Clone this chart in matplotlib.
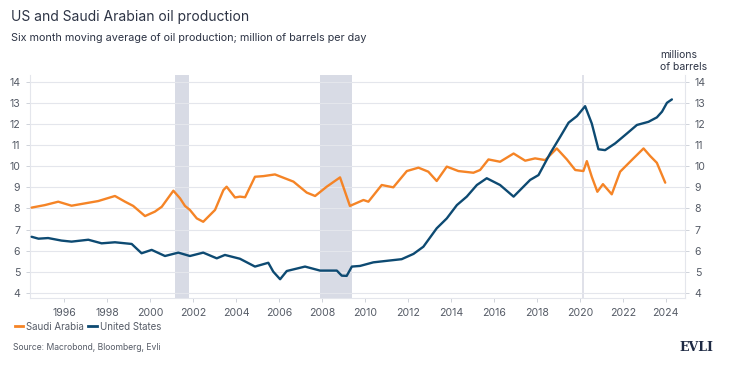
import matplotlib.pyplot as plt
from matplotlib.lines import Line2D

# values (year, million barrels per day)
saudi_years = [1994.48, 1995.1, 1995.72, 1996.34, 1996.96, 1997.58, 1998.36, 1998.83,
               1999.21, 1999.76, 2000.22, 2000.54, 2001.08, 2001.39, 2001.62, 2001.85,
               2002.17, 2002.47, 2003.02, 2003.41, 2003.56, 2003.95, 2004.18, 2004.42,
               2004.88, 2005.27, 2005.81, 2006.67, 2007.29, 2007.68, 2008.22, 2008.84,
               2009.3, 2009.93, 2010.16, 2010.78, 2011.32, 2011.95, 2012.49, 2012.95,
               2013.34, 2013.81, 2014.35, 2015.05, 2015.36, 2015.75, 2016.29, 2016.92,
               2017.46, 2017.92, 2018.39, 2018.93, 2019.4, 2019.79, 2020.17, 2020.33,
               2020.56, 2020.82, 2021.08, 2021.49, 2021.88, 2022.5, 2022.97, 2023.28,
               2023.59, 2023.98]
saudi = [8.04, 8.16, 8.32, 8.13, 8.24, 8.35, 8.59, 8.32,
         8.12, 7.64, 7.85, 8.08, 8.84, 8.48, 8.12, 7.93,
         7.53, 7.37, 7.93, 8.87, 9.03, 8.52, 8.56, 8.53,
         9.5, 9.53, 9.61, 9.27, 8.75, 8.59, 9.03, 9.47,
         8.12, 8.4, 8.32, 9.11, 9.0, 9.77, 9.93, 9.74,
         9.3, 9.98, 9.77, 9.69, 9.82, 10.32, 10.21, 10.6,
         10.26, 10.37, 10.29, 10.84, 10.32, 9.82, 9.77, 10.24,
         9.5, 8.79, 9.15, 8.67, 9.74, 10.37, 10.84, 10.48,
         10.16, 9.22]

us_years = [1994.48, 1994.8, 1995.25, 1995.87, 1996.34, 1997.12, 1997.74, 1998.36,
            1999.14, 1999.6, 2000.07, 2000.69, 2001.31, 2001.85, 2002.47, 2003.1,
            2003.48, 2004.18, 2004.88, 2005.5, 2005.73, 2006.05, 2006.36, 2007.21,
            2007.91, 2008.69, 2008.92, 2009.15, 2009.39, 2009.77, 2010.39, 2011.09,
            2011.71, 2012.26, 2012.72, 2013.34, 2013.81, 2014.28, 2014.74, 2015.21,
            2015.67, 2016.29, 2016.92, 2017.69, 2018.08, 2018.62, 2019.09, 2019.48,
            2019.87, 2020.25, 2020.56, 2020.87, 2021.18, 2021.65, 2022.2, 2022.66,
            2023.2, 2023.59, 2023.83, 2024.06, 2024.29]
us = [6.66, 6.57, 6.6, 6.48, 6.43, 6.52, 6.35, 6.4,
      6.32, 5.88, 6.04, 5.75, 5.91, 5.75, 5.91, 5.64,
      5.8, 5.62, 5.25, 5.43, 5.01, 4.65, 5.04, 5.25,
      5.06, 5.06, 4.82, 4.81, 5.25, 5.28, 5.45, 5.53,
      5.6, 5.85, 6.19, 7.06, 7.53, 8.16, 8.56, 9.11,
      9.43, 9.11, 8.56, 9.35, 9.58, 10.6, 11.39, 12.06,
      12.37, 12.84, 12.02, 10.8, 10.76, 11.08, 11.55, 11.95,
      12.1, 12.31, 12.58, 13.0, 13.16]

recessions = [(2001.17, 2001.8), (2007.92, 2009.42)]
covid_line = 2020.15

x_ticks = list(range(1996, 2025, 2))
y_ticks = list(range(4, 15))

orange = '#f58426'
navy = '#0d4a72'
text_col = '#2d3445'
tick_col = '#555b66'
grid_col = '#e4e6ec'

plt.rcParams['font.family'] = ['Inter', 'DejaVu Sans']

fig = plt.figure(figsize=(7.47, 3.70), dpi=100)
ax = fig.add_axes([0.040, 0.195, 0.877, 0.602])

for start, end in recessions:
    ax.axvspan(start, end, color='#d8dbe5', lw=0, zorder=1)
ax.axvline(covid_line, color='#dadce5', lw=1.2, zorder=1)

ax.plot(saudi_years, saudi, color=orange, lw=1.7, zorder=3,
        solid_joinstyle='round', solid_capstyle='round')
ax.plot(us_years, us, color=navy, lw=1.7, zorder=3,
        solid_joinstyle='round', solid_capstyle='round')

ax.set_xlim(1994.4, 2024.9)
ax.set_ylim(3.77, 14.31)
ax.set_xticks(x_ticks)
ax.set_yticks(y_ticks)
ax.grid(axis='y', color=grid_col, lw=0.8, zorder=0)
ax.tick_params(axis='both', labelsize=7.6, colors=tick_col, length=3, width=0.6,
               color='#c8ccd4')
ax.tick_params(axis='y', right=True, labelright=True, pad=4)
ax.tick_params(axis='x', pad=4)
for side in ['left', 'bottom', 'right']:
    ax.spines[side].set_color('#e4e6ec')
    ax.spines[side].set_linewidth(0.8)
ax.spines['top'].set_visible(False)

fig.text(0.015, 0.953, 'US and Saudi Arabian oil production', fontsize=10,
         color=text_col, va='center')
fig.text(0.015, 0.898, 'Six month moving average of oil production; million of barrels per day',
         fontsize=7.8, color=text_col, va='center')
fig.text(0.884, 0.835, 'millions\nof barrels', fontsize=7.5, color=text_col,
         va='center', ha='left', linespacing=1.3)

handles = [Line2D([], [], color=orange, lw=2), Line2D([], [], color=navy, lw=2)]
fig.legend(handles, ['Saudi Arabia', 'United States'], loc='center left',
           bbox_to_anchor=(0.008, 0.117), ncol=2, frameon=False, fontsize=7,
           handlelength=0.9, handletextpad=0.3, columnspacing=0.4,
           labelcolor=tick_col)
fig.text(0.018, 0.062, 'Source: Macrobond, Bloomberg, Evli', fontsize=6.2,
         color=tick_col, va='center')
fig.text(0.955, 0.062, 'EVLI', fontsize=9, color='#1e2a44', fontweight='bold',
         family='DejaVu Serif', va='center', ha='right')

fig.savefig('out.png', dpi=100)
